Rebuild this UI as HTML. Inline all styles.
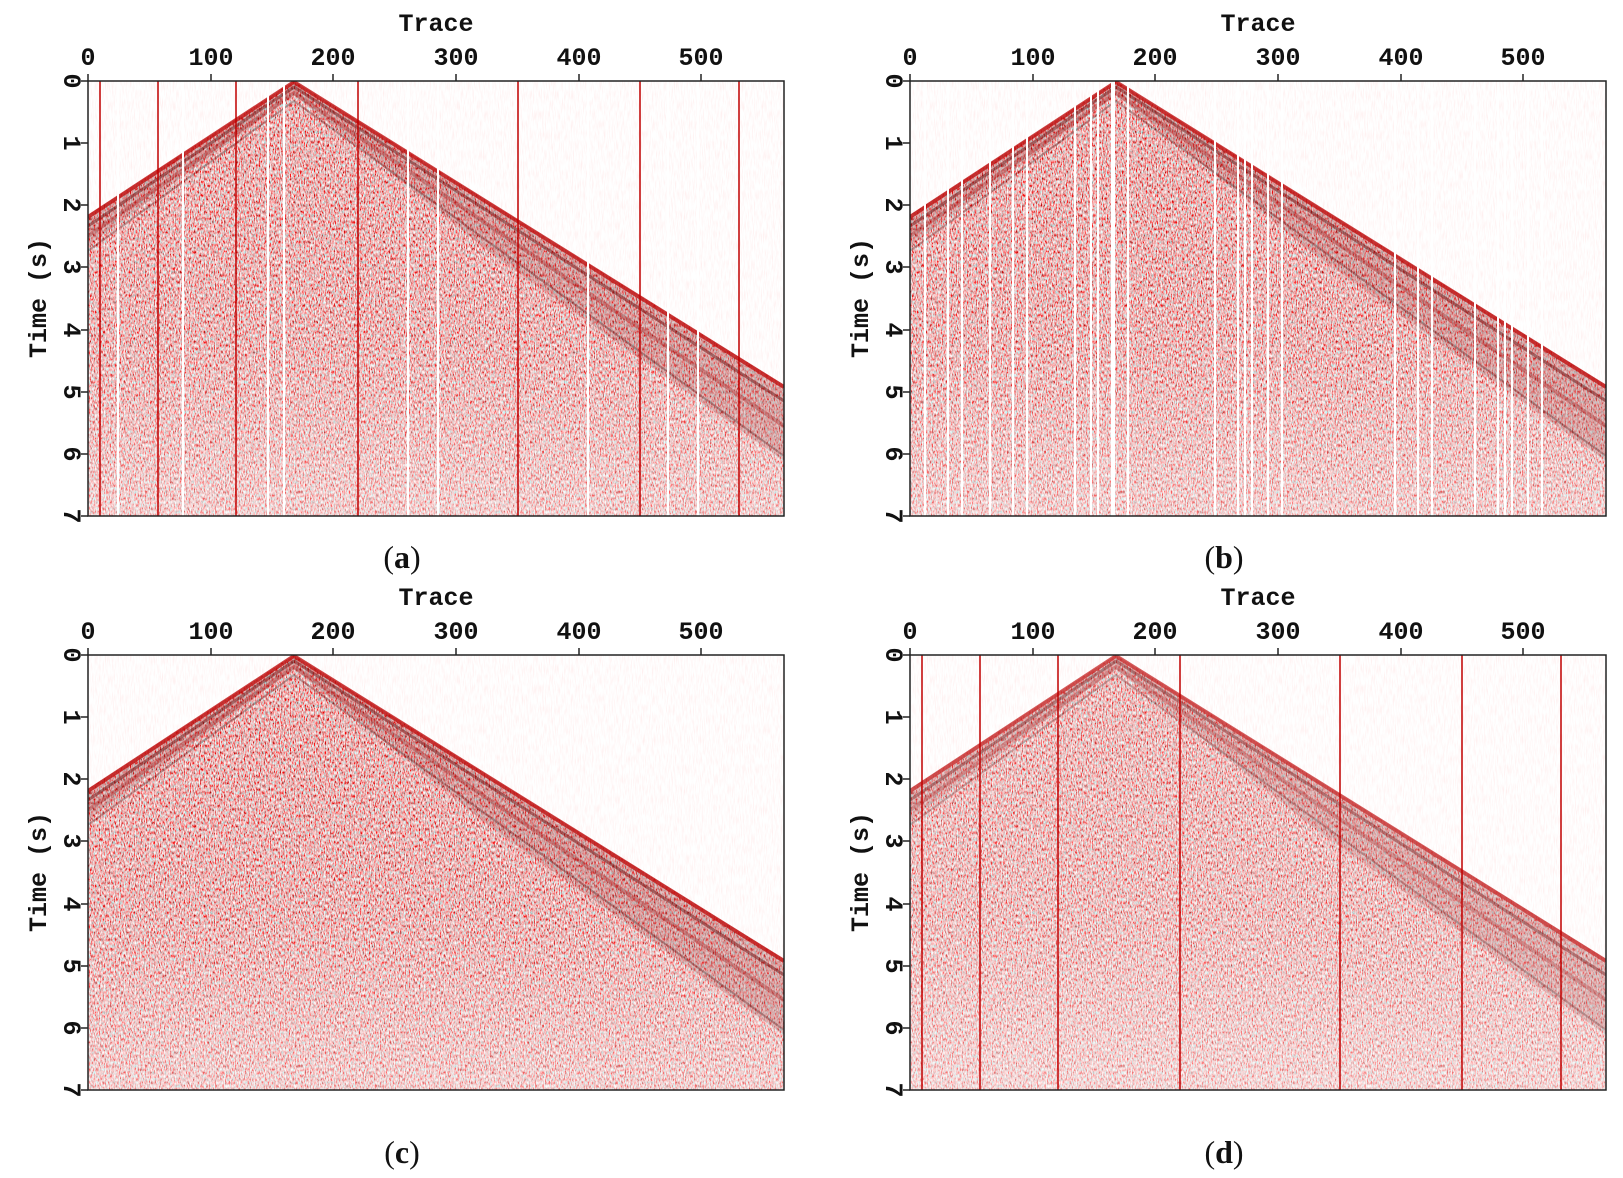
<!DOCTYPE html>
<html><head><meta charset="utf-8"><style>
html,body{margin:0;padding:0;background:#fff;width:1623px;height:1178px;overflow:hidden}
svg{display:block}
.t{font-family:"Liberation Mono",monospace;font-size:25px;font-weight:bold;fill:#111}
.cap{font-family:"Liberation Serif",serif;font-size:32px;fill:#111}
</style></head><body>
<svg width="1623" height="1178" viewBox="0 0 1623 1178" xmlns="http://www.w3.org/2000/svg">
<defs>
<filter id="nz" x="0" y="0" width="100%" height="100%">
<feTurbulence type="fractalNoise" baseFrequency="0.8 0.3" numOctaves="2" seed="3"/>
<feColorMatrix type="matrix" values="0 -1.6 0 0 1.62  -2.1 0 0 0 1.5  -2.1 0 0 0 1.5  0 0 0 0 1"/>
</filter>
<filter id="nzl" x="0" y="0" width="100%" height="100%">
<feTurbulence type="fractalNoise" baseFrequency="0.9 0.1" numOctaves="2" seed="7"/>
<feColorMatrix type="matrix" values="0 0 0 0 1  -0.35 0 0 0 1.15  -0.35 0 0 0 1.15  0 0 0 0 1"/>
</filter>
<clipPath id="tri"><polygon points="0,134 206,0 696,304 696,435 0,435"/></clipPath>
<clipPath id="box"><rect width="696" height="435"/></clipPath>
<linearGradient id="fade" x1="0" y1="0" x2="0" y2="1"><stop offset="0" stop-color="#fff" stop-opacity="0"/><stop offset="0.6" stop-color="#fff" stop-opacity="0.1"/><stop offset="1" stop-color="#fff" stop-opacity="0.4"/></linearGradient>
<g id="bgL"><rect width="696" height="435" filter="url(#nzl)"/></g>
<g id="core"><g clip-path="url(#tri)"><rect width="696" height="435" filter="url(#nz)"/>
<rect width="696" height="435" fill="url(#fade)"/>
<polygon points="0,134 206,0 696,304 696,380 400,170 206,14 0,165" fill="#7a1010" opacity="0.18"/></g>
<polyline points="0,136 206,1 696,306" fill="none" stroke="#c01010" stroke-width="4" opacity="0.8"/>
<polyline points="0,145 206,6 696,320" fill="none" stroke="#701010" stroke-width="3" opacity="0.5"/>
<polyline points="0,155 206,12 696,345" fill="none" stroke="#a01818" stroke-width="4" opacity="0.35"/>
<polyline points="0,170 206,20 696,375" fill="none" stroke="#501010" stroke-width="2" opacity="0.35"/></g>
<g id="vl" stroke="#c00000" stroke-width="1.5">
<line x1="12" y1="0" x2="12" y2="435"/><line x1="70" y1="0" x2="70" y2="435"/><line x1="148" y1="0" x2="148" y2="435"/>
<line x1="270" y1="0" x2="270" y2="435"/><line x1="430" y1="0" x2="430" y2="435"/><line x1="552" y1="0" x2="552" y2="435"/><line x1="651" y1="0" x2="651" y2="435"/>
</g>
<g id="wl" stroke="#fff" stroke-width="2">
<line x1="30" y1="0" x2="30" y2="435"/><line x1="95" y1="0" x2="95" y2="435"/><line x1="180" y1="0" x2="180" y2="435"/><line x1="196" y1="0" x2="196" y2="435"/>
<line x1="320" y1="0" x2="320" y2="435"/><line x1="350" y1="0" x2="350" y2="435"/><line x1="500" y1="0" x2="500" y2="435"/><line x1="580" y1="0" x2="580" y2="435"/><line x1="610" y1="0" x2="610" y2="435"/>
</g>
<g id="axes">
<rect x="0" y="0" width="696" height="435" fill="none" stroke="#222" stroke-width="1.5"/>
<g stroke="#222" stroke-width="1.5">
<line x1="0" y1="0" x2="0" y2="-7"/><line x1="123" y1="0" x2="123" y2="-7"/><line x1="245" y1="0" x2="245" y2="-7"/><line x1="368" y1="0" x2="368" y2="-7"/><line x1="491" y1="0" x2="491" y2="-7"/><line x1="613" y1="0" x2="613" y2="-7"/>
<line x1="0" y1="0" x2="-7" y2="0"/><line x1="0" y1="62" x2="-7" y2="62"/><line x1="0" y1="124" x2="-7" y2="124"/><line x1="0" y1="186" x2="-7" y2="186"/><line x1="0" y1="249" x2="-7" y2="249"/><line x1="0" y1="311" x2="-7" y2="311"/><line x1="0" y1="373" x2="-7" y2="373"/><line x1="0" y1="435" x2="-7" y2="435"/>
</g>
<g class="t" text-anchor="middle">
<text x="0" y="-16">0</text><text x="123" y="-16">100</text><text x="245" y="-16">200</text><text x="368" y="-16">300</text><text x="491" y="-16">400</text><text x="613" y="-16">500</text>
<text x="348" y="-50">Trace</text>
</g>
<g class="t" text-anchor="middle">
<text transform="translate(-16,0) rotate(90)" y="8">0</text>
<text transform="translate(-16,62) rotate(90)" y="8">1</text>
<text transform="translate(-16,124) rotate(90)" y="8">2</text>
<text transform="translate(-16,186) rotate(90)" y="8">3</text>
<text transform="translate(-16,249) rotate(90)" y="8">4</text>
<text transform="translate(-16,311) rotate(90)" y="8">5</text>
<text transform="translate(-16,373) rotate(90)" y="8">6</text>
<text transform="translate(-16,435) rotate(90)" y="8">7</text>
<text transform="translate(-50,217) rotate(-90)" y="8">Time (s)</text>
</g>
</g>
</defs>

<g transform="translate(88,81)"><g clip-path="url(#box)"><use href="#bgL"/><use href="#core"/><use href="#wl"/><use href="#vl"/></g><use href="#axes"/></g>
<g transform="translate(910,81)"><g clip-path="url(#box)"><use href="#bgL"/><use href="#core"/><use href="#wl" transform="translate(8,0)"/><use href="#wl" transform="translate(-15,0)"/><use href="#wl" transform="translate(22,0)"/></g><use href="#axes"/></g>
<g transform="translate(88,655)"><g clip-path="url(#box)"><use href="#bgL"/><use href="#core"/></g><use href="#axes"/></g>
<g transform="translate(910,655)"><g clip-path="url(#box)"><use href="#bgL"/><g opacity="0.85"><use href="#core"/></g><use href="#vl"/></g><use href="#axes"/></g>

<g class="cap" text-anchor="middle">
<text x="402" y="568">(<tspan font-weight="bold">a</tspan>)</text><text x="1224" y="568">(<tspan font-weight="bold">b</tspan>)</text>
<text x="402" y="1163">(<tspan font-weight="bold">c</tspan>)</text><text x="1224" y="1163">(<tspan font-weight="bold">d</tspan>)</text>
</g>
</svg>
</body></html>
